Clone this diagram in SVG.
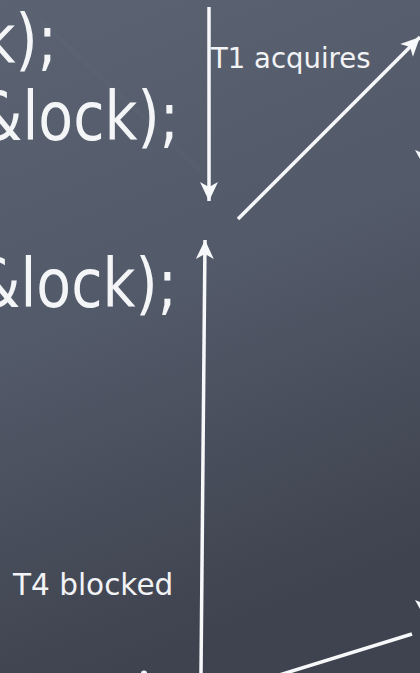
<svg xmlns="http://www.w3.org/2000/svg" width="420" height="673" viewBox="0 0 420 673">
<style>
.code{font-family:"DejaVu Sans",sans-serif;font-size:57px;fill:#f4f5f7}
.lbl{font-family:"DejaVu Sans",sans-serif;fill:#f2f3f5}
.ln{stroke:#f7f8fa;stroke-width:3.5;fill:none;stroke-linecap:butt}
.head{fill:#f7f8fa}
</style>
<defs>
<linearGradient id="bg" x1="0" y1="0" x2="0.25" y2="1">
<stop offset="0" stop-color="#5b6373"/>
<stop offset="0.5" stop-color="#525968"/>
<stop offset="1" stop-color="#3f434f"/>
</linearGradient>
<marker id="arr" markerUnits="userSpaceOnUse" markerWidth="24" markerHeight="24" viewBox="-20 -12 24 24" refX="0" refY="0" orient="auto">
<path class="head" d="M0,0 L-19,-9 L-14,0 L-19,9 Z"/>
</marker>
</defs>
<rect width="420" height="673" fill="url(#bg)"/>
<path d="M40,20 L200,170" stroke="#6b7383" stroke-width="5" opacity="0.12"/>
<g id="code-line1"><text class="code" transform="translate(57,63) scale(1,1.18)" text-anchor="end">k);</text></g>
<g id="code-line2"><text class="code" transform="translate(179,140) scale(1,1.18)" text-anchor="end">&amp;lock);</text></g>
<g id="code-line3"><text class="code" transform="translate(177,307) scale(1,1.18)" text-anchor="end">&amp;lock);</text></g>
<g id="label-t1"><text class="lbl" x="211" y="68" font-size="27.5">T1 acquires</text></g>
<g id="label-t4"><text class="lbl" x="13" y="595" font-size="29.5">T4 blocked</text></g>
<g id="connectors">
<line class="ln" x1="209" y1="7" x2="209" y2="201" marker-end="url(#arr)"/>
<line class="ln" x1="201" y1="673" x2="205" y2="240" marker-end="url(#arr)"/>
<line class="ln" x1="238" y1="219" x2="420" y2="37" marker-end="url(#arr)"/>
<line class="ln" x1="276" y1="676" x2="412" y2="634" stroke-width="4"/>
<polygon class="head" points="415,150 420,152 420,159"/>
<polygon class="head" points="415,600 420,602 420,609"/>
<ellipse class="head" cx="144" cy="673" rx="3" ry="2.5"/>
</g>
</svg>
